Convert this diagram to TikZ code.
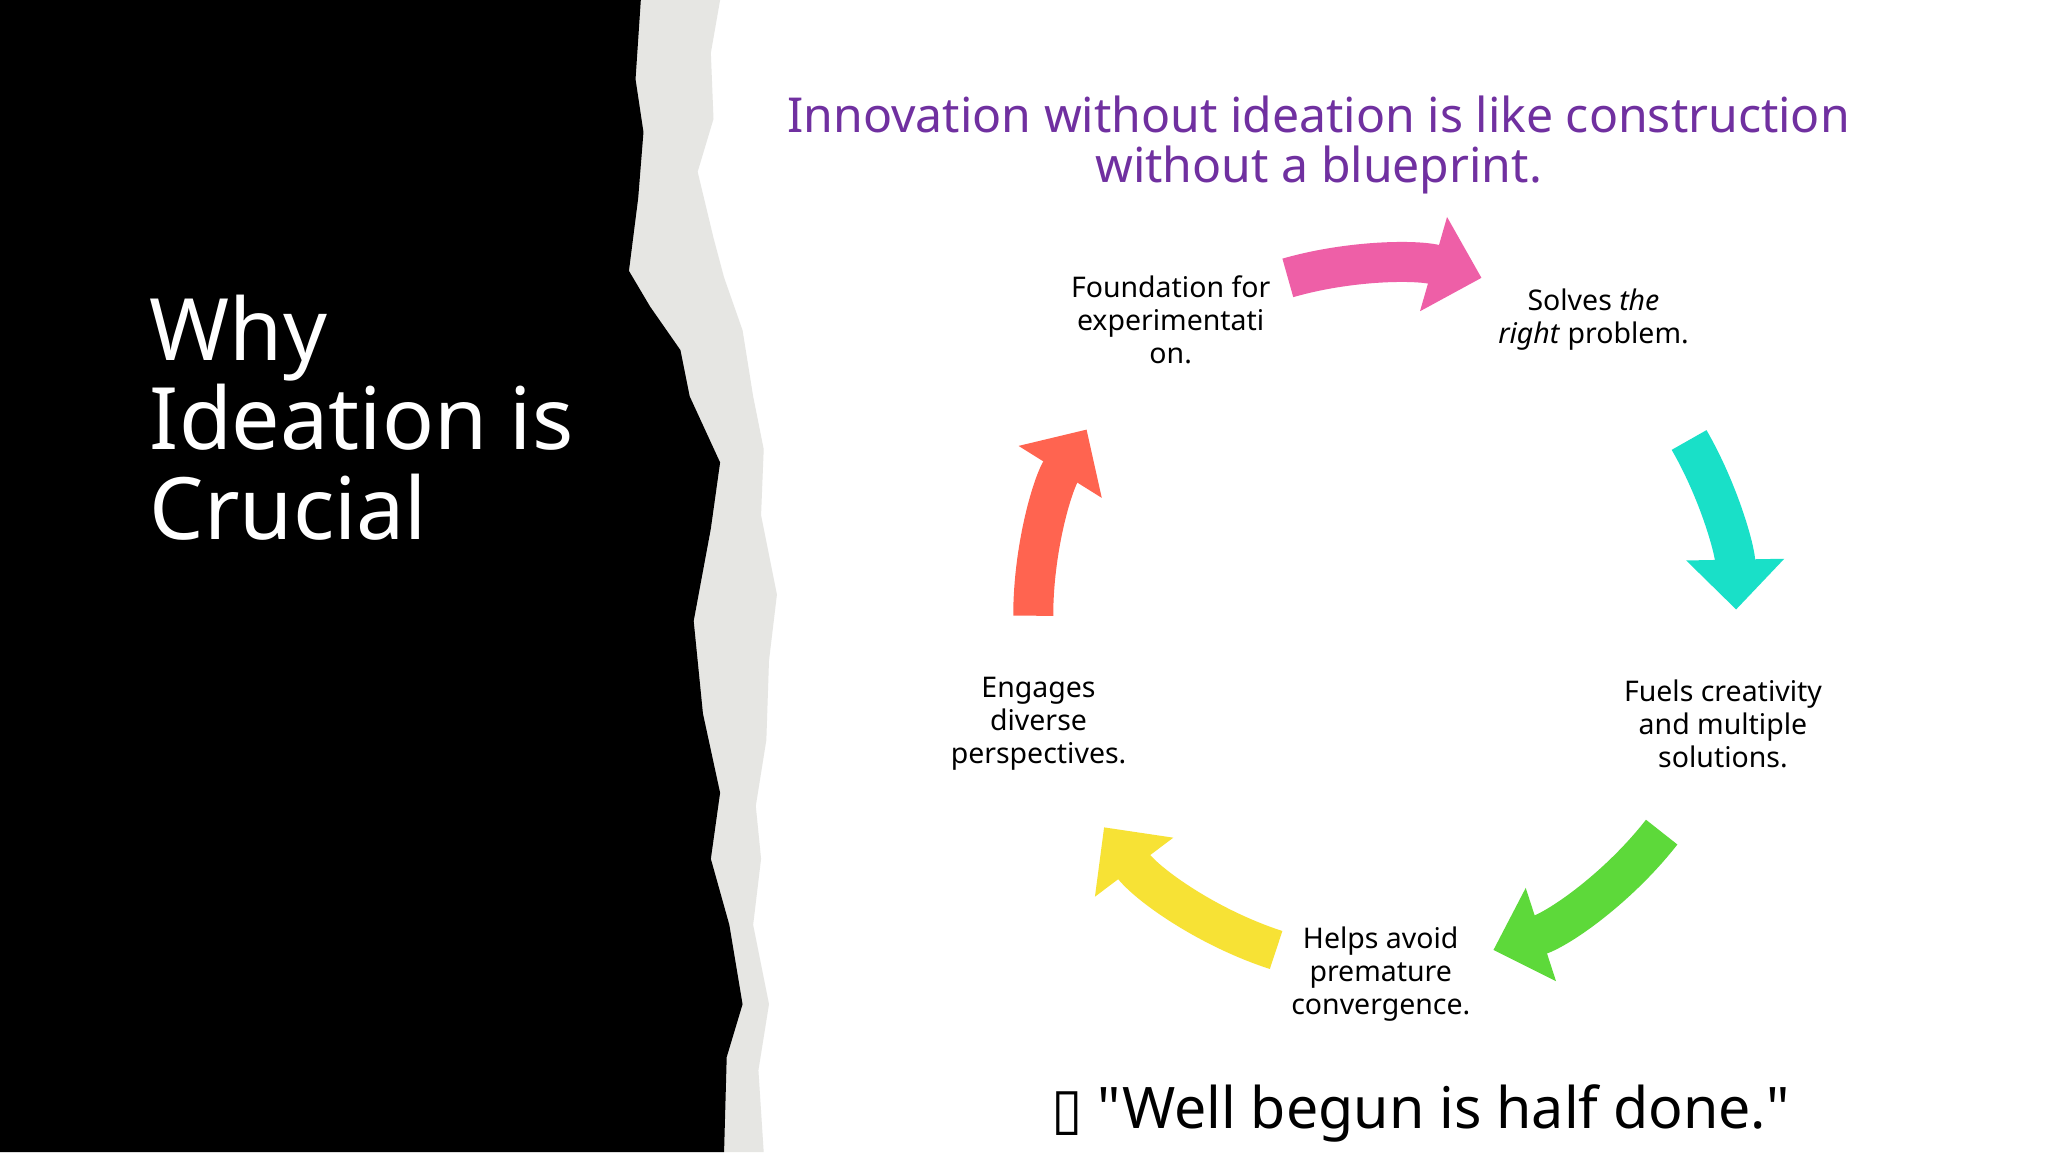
\documentclass[tikz,border=0pt]{standalone}
\usepackage{fontspec}
\setmainfont{Noto Sans}[Ligatures=TeXOff]
\newfontfamily\dejavu{DejaVu Sans}
\usetikzlibrary{arrows.meta}
\definecolor{cpink}{HTML}{EE5FA7}
\definecolor{ccyan}{HTML}{19E0C8}
\definecolor{cgreen}{HTML}{5DD93A}
\definecolor{cyel}{HTML}{F7E235}
\definecolor{cred}{HTML}{FF6450}
\definecolor{cpurp}{HTML}{7030A0}
\definecolor{cgray}{HTML}{E6E6E3}
\begin{document}
\begin{tikzpicture}[x=0.01321cm,y=-0.01321cm,
  lab/.style={align=center,font=\fontsize{8.1}{9.4}\selectfont,text=black},
  cyc/.style={line width=0.40cm,-{Triangle[length=0.5cm,width=0.95cm]}}]
\useasboundingbox (0,0) rectangle (1550,872);
\fill[white] (0,0) rectangle (1550,872);
\fill[cgray] (0,0) -- (545,0) -- (538,40) -- (540,90) -- (528,130) -- (540,180) -- (548,210) -- (562,250) -- (570,300) -- (578,340) -- (576,390) -- (588,450) -- (582,500) -- (580,560) -- (572,610) -- (576,650) -- (570,700) -- (582,760) -- (574,810) -- (578,872) -- (0,872) -- cycle;
\fill[black] (0,0) -- (485,0) -- (481,60) -- (487,100) -- (483,150) -- (476,205) -- (492,232) -- (515,265) -- (522,300) -- (545,350) -- (538,400) -- (525,470) -- (532,540) -- (545,600) -- (538,650) -- (552,700) -- (562,760) -- (550,800) -- (548,872) -- (0,872) -- cycle;
\node[anchor=west,align=left,text=white,font=\fontsize{24.5}{25.5}\selectfont] (title) at (104,316) {Why\\Ideation is\\Crucial};
\node[align=center,text=cpurp,font=\fontsize{13.7}{14.2}\selectfont] (sub) at (998,110) {Innovation without ideation is like construction\\without a blueprint.};
\coordinate (c) at (1048,466);
\draw[cyc,cpink] ([shift={(-106:266)}]c) arc[start angle=-106,end angle=-74,radius=266];
\draw[cyc,ccyan] ([shift={(-30:266)}]c) arc[start angle=-30,end angle=-1,radius=266];
\draw[cyc,cgreen] ([shift={(38:266)}]c) arc[start angle=38,end angle=72,radius=266];
\draw[cyc,cyel] ([shift={(108:266)}]c) arc[start angle=108,end angle=143,radius=266];
\draw[cyc,cred] ([shift={(180:266)}]c) arc[start angle=180,end angle=212,radius=266];
\node[lab] (l1) at (886,242) {Foundation for\\experimentati\\on.};
\node[lab] (l2) at (1206,242) {Solves \textit{the}\\\textit{right} problem.};
\node[lab] (l3) at (1304,548) {Fuels creativity\\and multiple\\solutions.};
\node[lab] (l4) at (1045,737) {Helps avoid\\premature\\convergence.};
\node[lab] (l5) at (786,548) {Engages\\diverse\\perspectives.};
\node[font=\fontsize{16.3}{18}\selectfont] (q) at (1075,843) {{\dejavu ▯} "Well begun is half done."};
\end{tikzpicture}
\end{document}
